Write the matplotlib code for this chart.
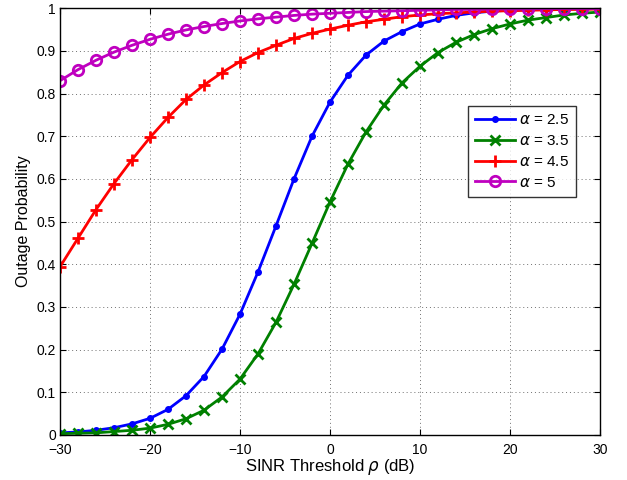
import numpy as np
import matplotlib
matplotlib.use('Agg')
from matplotlib import pyplot as plt

plt.rcParams['font.family'] = ['Liberation Sans', 'DejaVu Sans']
plt.rcParams['font.size'] = 10

# SINR threshold (dB), one marker every 2 dB
rho_db = np.arange(-30, 31, 2)

p_a25 = [0.005, 0.007, 0.011, 0.017, 0.026, 0.039, 0.060, 0.092, 0.137, 0.201,
         0.283, 0.382, 0.490, 0.600, 0.700, 0.780, 0.843, 0.890, 0.923, 0.945,
         0.963, 0.974, 0.983, 0.989, 0.993, 0.995, 0.997, 0.998, 0.998, 0.999, 0.999]
p_a35 = [0.003, 0.004, 0.005, 0.008, 0.011, 0.016, 0.025, 0.038, 0.058, 0.089,
         0.131, 0.190, 0.264, 0.353, 0.449, 0.546, 0.635, 0.710, 0.773, 0.825,
         0.864, 0.896, 0.920, 0.938, 0.952, 0.963, 0.972, 0.978, 0.984, 0.988, 0.991]
p_a45 = [0.394, 0.461, 0.528, 0.589, 0.645, 0.697, 0.744, 0.786, 0.820, 0.849,
         0.875, 0.896, 0.913, 0.929, 0.941, 0.951, 0.960, 0.968, 0.974, 0.980,
         0.984, 0.987, 0.989, 0.991, 0.993, 0.994, 0.995, 0.996, 0.997, 0.997, 0.998]
p_a5 = [0.830, 0.856, 0.878, 0.897, 0.913, 0.927, 0.939, 0.949, 0.957, 0.964,
        0.970, 0.975, 0.979, 0.983, 0.986, 0.988, 0.990, 0.992, 0.993, 0.994,
        0.995, 0.996, 0.997, 0.997, 0.998, 0.998, 0.998, 0.999, 0.999, 0.999, 0.999]

labels = [r'$\alpha$ = 2.5', r'$\alpha$ = 3.5', r'$\alpha$ = 4.5', r'$\alpha$ = 5']

fig = plt.figure(figsize=(6.27, 4.8), dpi=100)
ax = fig.add_axes([0.0957, 0.0938, 0.8613, 0.8892])

ax.plot(rho_db, p_a25, color='#0000ff', lw=2, marker='.', ms=8, label=labels[0])
ax.plot(rho_db, p_a35, color='#008000', lw=2, marker='x', ms=6.5, mew=2, label=labels[1])
ax.plot(rho_db, p_a45, color='#ff0000', lw=2, marker='+', ms=8.5, mew=2, label=labels[2])
ax.plot(rho_db, p_a5, color='#bf00bf', lw=2, marker='o', ms=7.5, mew=2,
        mfc='none', label=labels[3])

ax.set_xlim(-30, 30)
ax.set_ylim(0, 1)
ax.set_xticks(np.arange(-30, 31, 10))
ax.set_yticks(np.arange(0, 1.01, 0.1))
ax.set_yticklabels(['0', '0.1', '0.2', '0.3', '0.4', '0.5', '0.6', '0.7', '0.8', '0.9', '1'])
ax.tick_params(direction='in', top=True, right=True, length=4, labelsize=10)
ax.tick_params(axis='x', pad=6)
ax.tick_params(axis='y', pad=3)
ax.grid(True, linestyle=(0, (1, 3)), color='#707070', linewidth=0.7)
for s in ax.spines.values():
    s.set_linewidth(1.0)

ax.set_xlabel(r'SINR Threshold $\rho$ (dB)', fontsize=12, labelpad=0)
ax.set_ylabel('Outage Probability', fontsize=11.5, labelpad=4)

leg = ax.legend(loc='upper left', bbox_to_anchor=(0.756, 0.770), borderaxespad=0,
                fancybox=False, edgecolor='black', fontsize=11, handlelength=2.6,
                labelspacing=0.45, borderpad=0.45, handletextpad=0.3)
leg.get_frame().set_linewidth(1.0)

fig.savefig('out.png', dpi=100)
